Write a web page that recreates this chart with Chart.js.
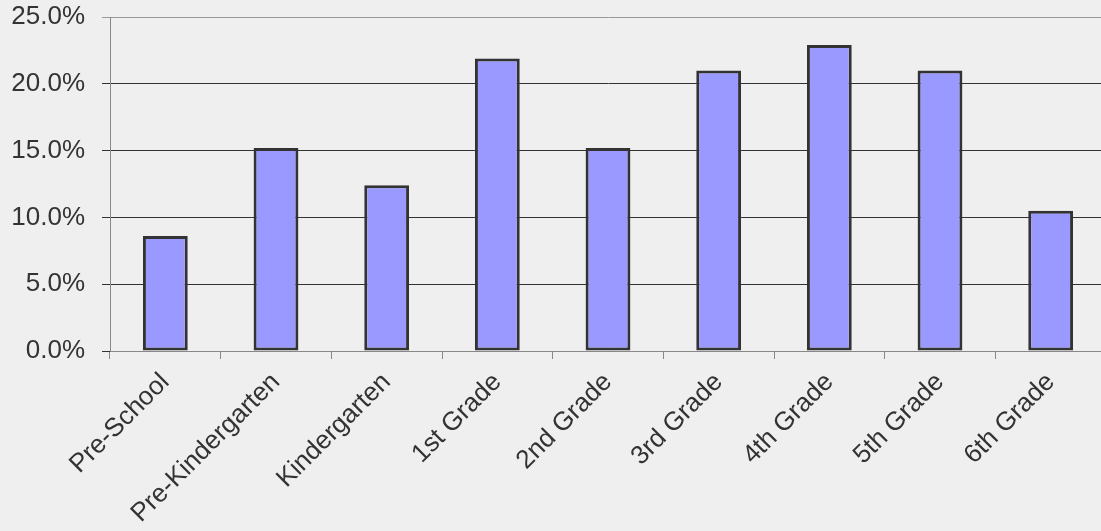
<!DOCTYPE html>
<html>
<head>
<meta charset="utf-8">
<script src="https://cdn.jsdelivr.net/npm/chart.js@4.4.1/dist/chart.umd.min.js"></script>
<style>
  html, body { margin: 0; padding: 0; background: #efefef; overflow: hidden; }
  #wrap { width: 1106px; height: 531px; }
</style>
</head>
<body>
<div id="wrap"><canvas id="myChart"></canvas></div>
<script>
// Share of students by grade level
const grades = ['Pre-School', 'Pre-Kindergarten', 'Kindergarten', '1st Grade', '2nd Grade',
                '3rd Grade', '4th Grade', '5th Grade', '6th Grade'];
const shares = [8.6, 15.2, 12.4, 21.9, 15.2, 21.0, 22.9, 21.0, 10.5];
const yTicks = [0, 5, 10, 15, 20, 25];

const labelFont = { family: 'Liberation Sans, Arial, sans-serif', size: 26 };

const ctx = document.getElementById('myChart');
const myChart = new Chart(ctx, {
    type: 'bar',
    data: {
        labels: grades,
        datasets: [{
            data: shares,
            backgroundColor: '#9999ff',
            borderColor: '#333333',
            borderWidth: 3,
            borderSkipped: false,
            barPercentage: 0.405,
            categoryPercentage: 1
        }]
    },
    options: {
        responsive: true,
        maintainAspectRatio: false,
        animation: false,
        layout: { padding: { top: 17, right: 0, left: 0, bottom: 0 } },
        scales: {
            x: {
                afterFit: scale => { scale.height = 180; },
                border: { color: '#888888', width: 1 },
                grid: {
                    offset: true,
                    drawOnChartArea: false,
                    color: '#888888',
                    tickLength: 8
                },
                ticks: {
                    autoSkip: false,
                    minRotation: 45,
                    maxRotation: 45,
                    color: '#333333',
                    padding: 8,
                    font: labelFont
                }
            },
            y: {
                min: 0,
                max: 25,
                afterFit: scale => {
                    scale.width = 110;
                    scale.paddingTop = 0;
                    scale.paddingBottom = 0;
                },
                afterBuildTicks: scale => { scale.ticks = yTicks.map(v => ({ value: v })); },
                border: { color: '#888888', width: 1 },
                grid: {
                    color: c => (c.tick && c.tick.value === 25) ? '#999999' : '#333333',
                    tickLength: 8
                },
                ticks: {
                    color: '#333333',
                    padding: 17,
                    font: labelFont,
                    callback: v => v.toFixed(1) + '%'
                }
            }
        },
        plugins: {
            legend: { display: false },
            tooltip: { enabled: false }
        }
    }
});
</script>
</body>
</html>
